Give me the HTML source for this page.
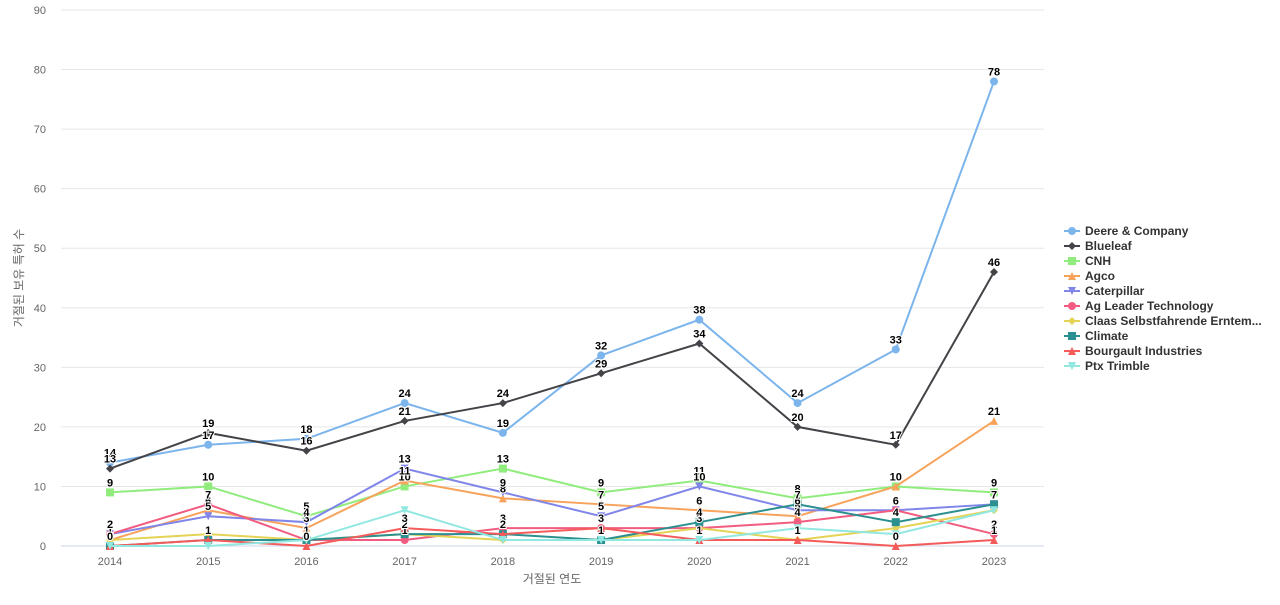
<!DOCTYPE html>
<html><head><meta charset="utf-8"><style>
body{margin:0;background:#fff;font-family:"Liberation Sans","Noto Sans CJK KR",sans-serif}
svg text{font-family:"Liberation Sans","Noto Sans CJK KR",sans-serif}
</style></head><body>
<svg id="c" width="1280" height="600"></svg>
<script>
const years=[2014,2015,2016,2017,2018,2019,2020,2021,2022,2023];
const seriesNames=["Deere & Company","Blueleaf","CNH","Agco","Caterpillar","Ag Leader Technology","Claas Selbstfahrende Erntem...","Climate","Bourgault Industries","Ptx Trimble"];
const deere=[14,17,18,24,19,32,38,24,33,78];
const blueleaf=[13,19,16,21,24,29,34,20,17,46];
const cnh=[9,10,5,10,13,9,11,8,10,9];
const agco=[1,6,3,11,8,7,6,5,10,21];
const caterpillar=[2,5,4,13,9,5,10,6,6,7];
const agleader=[2,7,1,1,3,3,3,4,6,2];
const claas=[1,2,1,2,1,1,3,1,3,6];
const climate=[0,1,1,2,2,1,4,7,4,7];
const bourgault=[0,1,0,3,2,3,1,1,0,1];
const ptx=[0,0,1,6,1,1,1,3,2,6];
const yTicks=[0,10,20,30,40,50,60,70,80,90];
const allSeries=[deere,blueleaf,cnh,agco,caterpillar,agleader,claas,climate,bourgault,ptx];
const colors=["#7cb5ec","#434348","#90ed7d","#f7a35c","#8085e9","#f15c80","#e4d354","#2b908f","#f45b5b","#91e8e1"];
const markers=["circle","diamond","square","triangle","tdown","circle","diamond","square","triangle","tdown"];
const labelled=[0,1,2,3,4,5,7,8];
const ns="http://www.w3.org/2000/svg";
const svg=document.getElementById('c');
const x=i=>110+i*(994-110)/(years.length-1);
const y=v=>546-v*(536/90);
function mk(t,a){const e=document.createElementNS(ns,t);for(const k in a)e.setAttribute(k,a[k]);svg.appendChild(e);return e;}
yTicks.forEach(t=>{
 const l=mk('line',{x1:61,x2:1044,y1:y(t),y2:y(t),stroke:t===0?'#ccd6eb':'#e6e6e6'});
 
 
 const tx=mk('text',{x:46,y:y(t)+4,'text-anchor':'end','font-size':11,fill:'#666'});tx.textContent=t;
 
 
});
years.forEach((yr,i)=>{
 const tx=mk('text',{x:x(i),y:565,'text-anchor':'middle','font-size':11,fill:'#666'});tx.textContent=yr;
 
 
});
let t1=mk('text',{x:552,y:583,'text-anchor':'middle','font-size':12,fill:'#666'});t1.textContent='거절된 연도';


let t2=mk('text',{x:23,y:278,'text-anchor':'middle','font-size':12,fill:'#666',transform:'rotate(-90 23 278)'});t2.textContent='거절된 보유 특허 수';


function marker(type,cx,cy,col){
 let e;
 if(type==='circle')e=mk('circle',{cx,cy,r:4,fill:col});
 else if(type==='square')e=mk('rect',{x:cx-4,y:cy-4,width:8,height:8,fill:col});
 else if(type==='diamond')e=mk('path',{d:`M${cx},${cy-4}L${cx+4},${cy}L${cx},${cy+4}L${cx-4},${cy}Z`,fill:col});
 else if(type==='triangle')e=mk('path',{d:`M${cx},${cy-4}L${cx+4},${cy+4}L${cx-4},${cy+4}Z`,fill:col});
 else e=mk('path',{d:`M${cx-4},${cy-4}L${cx+4},${cy-4}L${cx},${cy+4}Z`,fill:col});
 return e;
}
allSeries.forEach((s,k)=>{
 const p=mk('polyline',{points:s.map((v,i)=>x(i)+','+y(v)).join(' '),fill:'none',stroke:colors[k],'stroke-width':2});
 
 
 s.forEach((v,i)=>{
  const m=marker(markers[k],x(i),y(v),colors[k]);
  
  
 });
});
allSeries.forEach((s,k)=>{
 if(!labelled.includes(k))return;
 s.forEach((v,i)=>{
  const t=mk('text',{x:x(i),y:y(v)-6,'text-anchor':'middle','font-size':11,'font-weight':'bold',fill:'#000',stroke:'#fff','stroke-width':2,'paint-order':'stroke'});
  t.textContent=v;
  
  
 });
});
seriesNames.forEach((n,k)=>{
 const yy=231+k*15;
 const l=mk('line',{x1:1064,x2:1080,y1:yy,y2:yy,stroke:colors[k],'stroke-width':2});
 
 
 marker(markers[k],1072,yy,colors[k]);
 const t=mk('text',{x:1085,y:yy+4,'font-size':12,'font-weight':'bold',fill:'#333'});t.textContent=n;
 
 
});
</script>
</body></html>
